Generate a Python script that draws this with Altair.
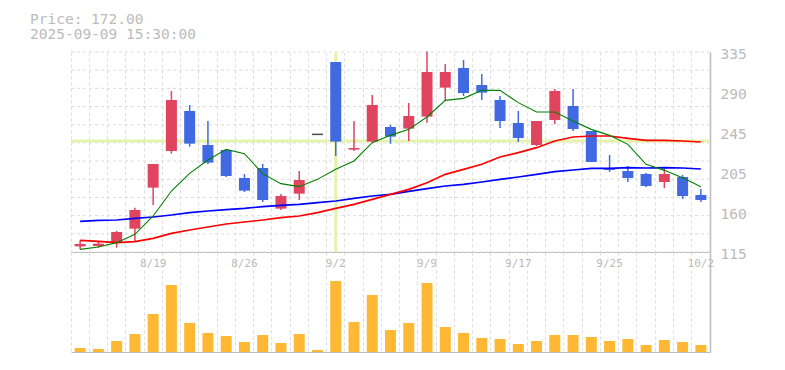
import altair as alt
import pandas as pd

# ---------------- data ----------------
dates = ["8/13", "8/14", "8/15", "8/18", "8/19", "8/20", "8/21", "8/22", "8/25", "8/26",
         "8/27", "8/28", "8/29", "9/1", "9/2", "9/3", "9/4", "9/5", "9/8", "9/9",
         "9/10", "9/11", "9/12", "9/16", "9/17", "9/18", "9/19", "9/22", "9/24", "9/25",
         "9/26", "9/29", "9/30", "10/1", "10/2"]
opens = [121.2, 121.6, 125.3, 140.7, 185.8, 226.1, 270.1, 232.7, 227.2, 196.4,
         207.4, 162.7, 179.2, 244.4, 324.0, 227.6, 236.4, 252.5, 250.7, 263.9,
         295.8, 317.4, 298.7, 282.2, 256.9, 232.7, 260.2, 275.6, 248.1, 207.4,
         204.1, 200.8, 192.0, 197.5, 177.7]
highs = [127.8, 127.1, 138.1, 163.8, 211.8, 292.1, 276.7, 259.1, 227.9, 200.8,
         211.8, 178.8, 204.1, 244.4, 324.0, 259.1, 287.7, 254.7, 278.9, 335.5,
         321.8, 326.2, 310.8, 286.6, 270.1, 259.1, 294.3, 294.3, 248.1, 221.7,
         209.6, 201.9, 207.4, 199.7, 184.3]
lows = [117.9, 119.8, 119.8, 127.1, 166.7, 223.2, 230.9, 211.8, 197.5, 181.0,
        170.0, 161.2, 172.2, 244.4, 220.6, 226.1, 236.4, 234.2, 237.1, 257.3,
        282.2, 286.6, 282.2, 251.4, 236.0, 231.6, 255.8, 248.1, 214.0, 203.0,
        192.0, 186.5, 185.4, 173.3, 170.0]
closes = [123.8, 124.2, 137.0, 161.2, 211.8, 282.2, 234.2, 213.3, 198.6, 182.5,
          172.2, 176.6, 194.2, 244.4, 236.4, 229.4, 276.7, 241.9, 264.6, 313.0,
          313.0, 289.9, 290.3, 259.1, 240.4, 259.1, 292.1, 250.3, 214.0, 205.2,
          196.4, 187.6, 200.8, 176.6, 172.2]
ma_short = [117.9, 120.5, 125.3, 134.4, 154.6, 182.1, 201.5, 216.2, 227.9, 223.2,
            201.2, 190.2, 186.9, 194.9, 205.9, 215.1, 235.3, 243.3, 249.9, 263.5,
            281.8, 284.0, 292.8, 292.8, 279.3, 269.0, 269.0, 259.1, 249.9, 243.3,
            233.4, 211.4, 204.8, 196.8, 186.9]
ma_mid = [127.8, 126.7, 125.3, 126.4, 130.0, 135.5, 139.2, 142.5, 145.8, 148.0,
          150.2, 152.8, 154.6, 158.3, 163.0, 167.4, 172.9, 178.4, 183.9, 191.3,
          200.4, 205.9, 211.4, 219.5, 224.3, 229.8, 237.1, 241.5, 242.6, 242.6,
          240.0, 237.8, 237.8, 237.1, 236.0]
ma_long = [148.7, 149.8, 150.2, 152.0, 153.5, 155.7, 158.3, 160.1, 161.6, 163.0,
           164.9, 166.3, 167.4, 169.3, 171.1, 174.0, 176.6, 178.4, 181.7, 184.7,
           187.6, 189.4, 192.0, 194.9, 197.5, 200.4, 203.4, 205.2, 207.0, 207.0,
           207.8, 207.4, 207.8, 207.4, 206.3]
volumes = [12000, 9000, 33000, 54000, 114000, 201000, 87000, 57000, 48000, 30000,
           51000, 27000, 54000, 6000, 213000, 90000, 171000, 66000, 87000, 207000,
           75000, 57000, 42000, 39000, 24000, 33000, 51000, 51000, 45000, 33000,
           39000, 21000, 36000, 30000, 21000]
x_labels = ["8/19", "8/26", "9/2", "9/9", "9/17", "9/25", "10/2"]
price_ticks = [115, 159, 203, 247, 291, 335]
price_tick_labels = ["115", "160", "205", "245", "290", "335"]
grid_prices = [115, 135, 155, 175, 195, 215, 235, 255, 275, 295, 315, 335]
header_price = "Price: 172.00"
header_time = "2025-09-09 15:30:00"
cross_date = "9/2"
cross_price = 237.1

# ---------------- frames ----------------
df = pd.DataFrame({"date": dates, "open": opens, "high": highs, "low": lows,
                   "close": closes, "vol": volumes})
df["dir"] = ["up" if c > o else ("down" if c < o else "flat") for o, c in zip(opens, closes)]
ma_df = pd.DataFrame({"date": dates, "s": ma_short, "m": ma_mid, "l": ma_long})
grid_df = pd.DataFrame({"p": grid_prices})
lab_df = pd.DataFrame({"date": x_labels})

W = 639
FONT = "DejaVu Sans Mono"
GRAY = "#bbbbbb"
GRID = "#dcdcdc"
UP = "#e0445f"
DOWN = "#4169e1"
CROSS = "#e5f3ae"

xscale = alt.Scale(domain=dates, paddingInner=0, paddingOuter=0)
xaxis = alt.Axis(labels=False, ticks=False, tickSize=0, labelPadding=0, domain=True,
                 domainColor=GRAY, domainWidth=1, minExtent=0, maxExtent=0, offset=0,
                 grid=True, gridColor=GRID, gridDash=[3, 3], gridWidth=1, bandPosition=0,
                 title=None)
X = alt.X("date:O", sort=dates, scale=xscale, axis=xaxis, title=None)

yscale = alt.Scale(domain=[115, 335], nice=False, zero=False)
label_expr = " : ".join(f"datum.value == {v} ? '{l}'" for v, l in zip(price_ticks, price_tick_labels)) + " : ''"
yaxis = alt.Axis(orient="right", values=price_ticks, labelExpr=label_expr, grid=False,
                 ticks=False, tickSize=0, domain=True, domainColor=GRAY, domainWidth=1.5,
                 labelColor=GRAY, labelFont=FONT, labelFontSize=14.5, labelPadding=10,
                 labelOffset=2.5, labelOverlap=False, labelBound=False, labelFlush=False,
                 title=None)


def Y(field):
    return alt.Y(field, scale=yscale, axis=yaxis, title=None)


colscale = alt.Scale(domain=["up", "down", "flat"], range=[UP, DOWN, "#000000"])

base = alt.Chart(df)

grid = alt.Chart(grid_df).mark_rule(color=GRID, strokeDash=[3, 3], strokeWidth=1).encode(
    y=Y("p:Q"))
cross_h = alt.Chart(pd.DataFrame({"p": [cross_price]})).mark_rule(color=CROSS, strokeWidth=3).encode(
    y=Y("p:Q"))
cross_v = alt.Chart(pd.DataFrame({"date": [cross_date]})).mark_rule(color=CROSS, strokeWidth=3).encode(
    x=X)

wicks = base.mark_rule(strokeWidth=1.5).encode(
    x=X, y=Y("low:Q"), y2="high:Q",
    color=alt.Color("dir:N", scale=colscale, legend=None))
bodies = base.transform_filter("datum.dir !== 'flat'").mark_bar(size=11).encode(
    x=X, y=Y("open:Q"), y2="close:Q",
    color=alt.Color("dir:N", scale=colscale, legend=None))
flat = base.transform_filter("datum.dir === 'flat'").mark_tick(size=11, thickness=1.5, color="#000000").encode(
    x=X, y=Y("open:Q"))

ma_base = alt.Chart(ma_df)
line_l = ma_base.mark_line(color="#0000ff", strokeWidth=1.6).encode(x=X, y=Y("l:Q"))
line_m = ma_base.mark_line(color="#ff0000", strokeWidth=1.6).encode(x=X, y=Y("m:Q"))
line_s = ma_base.mark_line(color="#008000", strokeWidth=1.1).encode(x=X, y=Y("s:Q"))

head1 = alt.Chart(pd.DataFrame({"t": [header_price]})).mark_text(
    align="left", baseline="alphabetic", font=FONT, fontSize=14.5, color=GRAY).encode(
    x=alt.value(-41), y=alt.value(-27.7), text="t:N")
head2 = alt.Chart(pd.DataFrame({"t": [header_time]})).mark_text(
    align="left", baseline="alphabetic", font=FONT, fontSize=14.5, color=GRAY).encode(
    x=alt.value(-41), y=alt.value(-12.7), text="t:N")

price = alt.layer(grid, cross_h, cross_v, wicks, bodies, flat, line_l, line_m, line_s,
                  head1, head2).properties(width=W, height=200)

vscale = alt.Scale(domain=[0, 300000], nice=False)
vaxis = alt.Axis(orient="right", labels=False, ticks=False, grid=False, domain=True,
                 domainColor=GRAY, domainWidth=1.5, title=None)
vbars = base.mark_bar(size=11, color="#ffb833").encode(
    x=X, y=alt.Y("vol:Q", scale=vscale, axis=vaxis))
vlabels = alt.Chart(lab_df).mark_text(font=FONT, fontSize=11, color=GRAY, baseline="middle").encode(
    x=X, y=alt.value(12), text="date:N")
volume = alt.layer(vbars, vlabels).properties(width=W, height=100)

chart = alt.vconcat(price, volume, spacing=0, bounds="flush").properties(
    padding={"left": 22, "top": 4, "right": 5, "bottom": 5}
).configure_view(strokeWidth=0).configure_axis(domainWidth=1)

chart.save("out.html", embed_options={"renderer": "svg", "actions": False})
